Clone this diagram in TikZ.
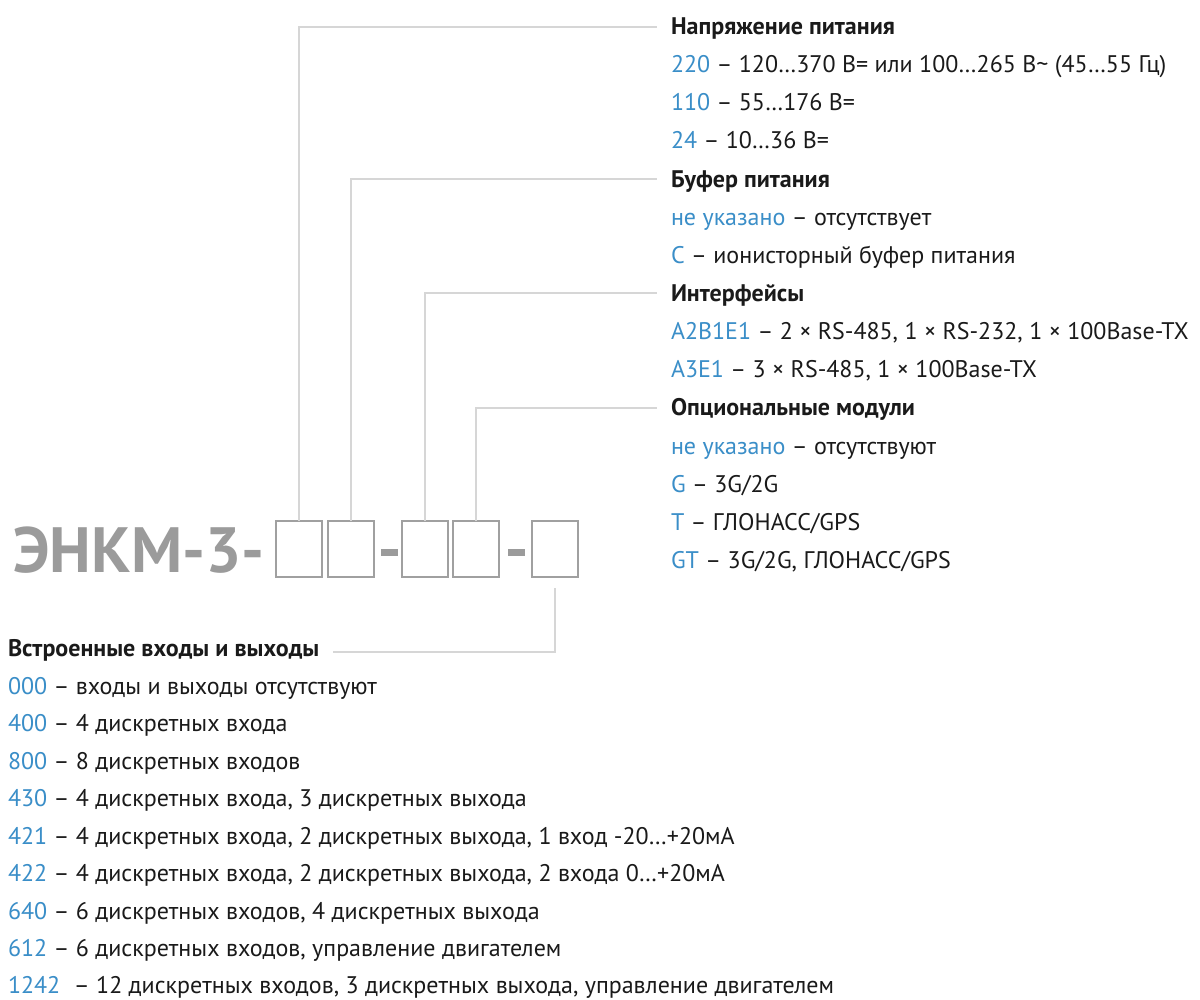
\documentclass[tikz,border=0pt]{standalone}
\usepackage{fontspec}
\setmainfont{PT Sans}
\definecolor{codeblue}{RGB}{58,142,200}
\definecolor{ink}{RGB}{26,26,26}
\definecolor{titlegray}{RGB}{155,155,155}
\definecolor{boxgray}{RGB}{160,160,160}
\definecolor{linegray}{RGB}{214,214,214}
\newcommand{\cd}[1]{\textcolor{codeblue}{#1}}
\begin{document}
\begin{tikzpicture}[x=1bp,y=-1bp,
  every node/.style={inner sep=0pt,outer sep=0pt},
  txt/.style={anchor=base west,font=\fontsize{24bp}{28bp}\selectfont,text=ink},
  head/.style={anchor=base west,font=\fontsize{24bp}{28bp}\selectfont\bfseries,text=ink},
  title/.style={anchor=base west,font=\fontsize{64bp}{70bp}\selectfont\bfseries,text=titlegray},
  slot/.style={draw=boxgray,line width=2.5bp,minimum width=46bp,minimum height=56bp,anchor=north west},
  dashbar/.style={fill=titlegray,minimum width=17bp,minimum height=7bp},
  conn/.style={draw=linegray,line width=1.5bp}]
\fill[white] (0,0) rectangle (1200,1000);
\useasboundingbox (0,0) rectangle (1200,1000);

% model code
\node[title] (ttl) at (13,572) {ЭНКМ-3-};
\node[slot] (b1) at (276,521) {};
\node[slot] (b2) at (328,521) {};
\node[dashbar] (d1) at (389,552) {};
\node[slot] (b3) at (402,521) {};
\node[slot] (b4) at (453,521) {};
\node[dashbar] (d2) at (516,552) {};
\node[slot] (b5) at (532,521) {};

% connector end points
\coordinate (c1) at (657,27);
\coordinate (c2) at (657,179);
\coordinate (c3) at (657,293);
\coordinate (c4) at (657,408);
\coordinate (c5) at (333,652);

\draw[conn] (b1.north) |- (c1);
\draw[conn] (b2.north) |- (c2);
\draw[conn] (b3.north) |- (c3);
\draw[conn] (b4.north) |- (c4);
\draw[conn] ([yshift=-11bp]b5.south) |- (c5);

% right column
\node[head] (r0) at (671,34) {Напряжение питания};
\node[txt] (r1) at (671,72) {\cd{220} – 120…370 В= или 100…265 В\textasciitilde{} (45…55 Гц)};
\node[txt] (r2) at (671,110) {\cd{110} – 55…176 В=};
\node[txt] (r3) at (671,148) {\cd{24} – 10…36 В=};
\node[head] (r4) at (671,187) {Буфер питания};
\node[txt] (r5) at (671,225) {\cd{не указано} – отсутствует};
\node[txt] (r6) at (671,263) {\cd{С} – ионисторный буфер питания};
\node[head] (r7) at (671,301) {Интерфейсы};
\node[txt] (r8) at (671,339) {\cd{A2B1E1} – 2 × RS-485, 1 × RS-232, 1 × 100Base-TX};
\node[txt] (r9) at (671,377) {\cd{A3E1} – 3 × RS-485, 1 × 100Base-TX};
\node[head] (r10) at (671,415) {Опциональные модули};
\node[txt] (r11) at (671,454) {\cd{не указано} – отсутствуют};
\node[txt] (r12) at (671,492) {\cd{G} – 3G/2G};
\node[txt] (r13) at (671,530) {\cd{T} – ГЛОНАСС/GPS};
\node[txt] (r14) at (671,568) {\cd{GT} – 3G/2G, ГЛОНАСС/GPS};

% bottom list
\node[head] (l0) at (8,656) {Встроенные входы и выходы};
\node[txt] (l1) at (8,694) {\cd{000} – входы и выходы отсутствуют};
\node[txt] (l2) at (8,731) {\cd{400} – 4 дискретных входа};
\node[txt] (l3) at (8,769) {\cd{800} – 8 дискретных входов};
\node[txt] (l4) at (8,806) {\cd{430} – 4 дискретных входа, 3 дискретных выхода};
\node[txt] (l5) at (8,844) {\cd{421} – 4 дискретных входа, 2 дискретных выхода, 1 вход -20…+20мА};
\node[txt] (l6) at (8,881) {\cd{422} – 4 дискретных входа, 2 дискретных выхода, 2 входа 0…+20мА};
\node[txt] (l7) at (8,919) {\cd{640} – 6 дискретных входов, 4 дискретных выхода};
\node[txt] (l8) at (8,956) {\cd{612} – 6 дискретных входов, управление двигателем};
\node[txt] (l9) at (8,993) {\cd{1242}\hspace{0.3em} – 12 дискретных входов, 3 дискретных выхода, управление двигателем};
\end{tikzpicture}
\end{document}
